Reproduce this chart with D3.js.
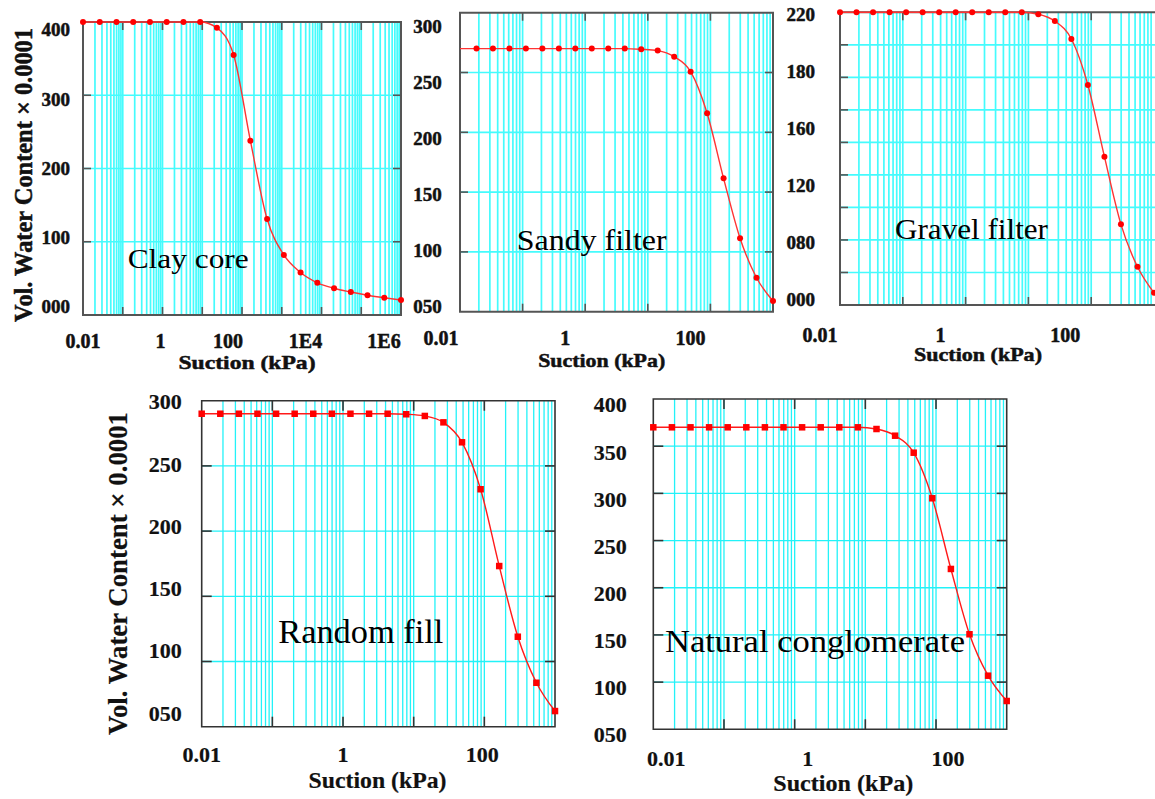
<!DOCTYPE html>
<html><head><meta charset="utf-8">
<script src="https://cdn.jsdelivr.net/npm/d3@7/dist/d3.min.js"></script>
<style>
body{margin:0;background:#fff}
svg{display:block}
text{font-family:"Liberation Serif","Times New Roman",serif}
</style>
</head><body>
<svg id="chart" width="1155" height="799"></svg>
<script>
// ---------- DATA ----------
const suctionClay = [0.01, 0.02637, 0.06952, 0.1833, 0.4833, 1.274, 3.360, 8.859, 23.36, 61.58,
  162.4, 428.1, 1129, 2976, 7848, 20691, 54556, 143845, 379269, 1000000];
const suction = [0.01, 0.01833, 0.03360, 0.06158, 0.1129, 0.2069, 0.3793, 0.6952, 1.274, 2.336,
  4.281, 7.848, 14.38, 26.37, 48.33, 88.59, 162.4, 297.6, 545.6, 1000];

const clayCore = [400, 400, 400, 400, 400, 400, 400, 400, 392, 355, 238, 131, 82, 58, 44, 36.5, 31.4, 27, 23.6, 20.5];
const sandyFilter = [270, 270, 270, 270, 270, 270, 270, 270, 270, 270, 270, 269.4, 268.3, 263.2, 250.7, 215.9, 161.5, 111.4, 78.4, 59];
const gravelFilter = [220, 220, 220, 220, 220, 220, 220, 220, 220, 220, 220, 220, 218.8, 214.6, 203.6, 175.3, 131.2, 89.6, 63.5, 47.5];
const randomFill = [290, 290, 290, 290, 290, 290, 290, 290, 290, 290, 290, 289.6, 288.3, 283.4, 268.1, 232.1, 173.2, 119, 83.7, 62];
const naturalConglomerate = [370, 370, 370, 370, 370, 370, 370, 370, 370, 370, 370, 370, 368.2, 361.1, 343.1, 294.8, 219.9, 150.7, 106.8, 80];

const materialNames = ["Clay core", "Sandy filter", "Gravel filter", "Random fill", "Natural conglomerate"];

const clayXTicks = [0.01, 1, 100, 1e4, 1e6];
const clayXTickLabels = ["0.01", "1", "100", "1E4", "1E6"];
const xTicks = [0.01, 1, 100];
const xTickLabels = ["0.01", "1", "100"];

const clayYLabels = ["400", "300", "200", "100", "000"];
const sandyYLabels = ["300", "250", "200", "150", "100", "050"];
const gravelYLabels = ["220", "180", "160", "120", "080", "000"];
const randomYLabels = ["300", "250", "200", "150", "100", "050"];
const conglomerateYLabels = ["400", "350", "300", "250", "200", "150", "100", "050"];

const clayYGrid = [100, 200, 300];
const sandyYGrid = [100, 150, 200, 250];
const gravelYGrid = [60, 80, 100, 120, 140, 160, 180, 200];
const randomYGrid = [100, 150, 200, 250];
const conglomerateYGrid = [100, 150, 200, 250, 300, 350];

const xTitle = "Suction (kPa)";
const yTitle = "Vol. Water Content \u00d7 0.0001";

// ---------- LAYOUT (positions / styles) ----------
const panels = [
  {name: materialNames[0], xs: suctionClay, ys: clayCore, xDomain: [0.01, 1e6], yDomain: [0, 400],
   box: [83, 401, 22, 315], top: true, marker: "circle",
   xTicks: clayXTicks, xTickLabels: clayXTickLabels, xLabelDx: [0, -2, -14, -16, -17], xLabelY: 340.7,
   yLabels: clayYLabels, yLabelRange: [30, 307], yLabelRight: 70, yGrid: clayYGrid,
   xTitlePos: [247, 363.3, 137], namePos: [127.7, 268.3, 121, 28],
   yTitlePos: [31.5, 175, 294, 25]},
  {name: materialNames[1], xs: suction, ys: sandyFilter, xDomain: [0.01, 1000], yDomain: [50, 300],
   box: [460, 773, 12.7, 311.7], top: true, marker: "circle", skipFirstMarker: true,
   xTicks: xTicks, xTickLabels: xTickLabels, xLabelDx: [-19, -20, -20], xLabelY: 338.3,
   yLabels: sandyYLabels, yLabelRange: [26.7, 307], yLabelRight: 441.7, yGrid: sandyYGrid,
   xTitlePos: [601.7, 361.7, 127], namePos: [516.7, 250, 150, 29]},
  {name: materialNames[2], xs: suction, ys: gravelFilter, xDomain: [0.01, 1000], yDomain: [40, 220],
   box: [840, 1154, 12.3, 305], top: true, marker: "circle", noRight: true,
   xTicks: xTicks, xTickLabels: xTickLabels, xLabelDx: [-20, -25, -26], xLabelY: 335,
   yLabels: gravelYLabels, yLabelRange: [15, 300], yLabelRight: 815, yGrid: gravelYGrid,
   xTitlePos: [978, 356, 128], namePos: [895, 239.3, 153, 29]},
  {name: materialNames[3], xs: suction, ys: randomFill, xDomain: [0.01, 1000], yDomain: [50, 300],
   box: [201.7, 555, 400.7, 726.7], top: false, marker: "square",
   xTicks: xTicks, xTickLabels: xTickLabels, xLabelDx: [0, 0, -2], xLabelY: 755,
   yLabels: randomYLabels, yLabelRange: [401.7, 713.3], yLabelRight: 181.7, yGrid: randomYGrid,
   xTitlePos: [377.5, 781.7, 138], namePos: [278.3, 643.3, 165, 34],
   yTitlePos: [126.5, 573.5, 323, 27]},
  {name: materialNames[4], xs: suction, ys: naturalConglomerate, xDomain: [0.01, 1000], yDomain: [50, 400],
   box: [653.3, 1006.7, 399, 729.3], top: false, marker: "square",
   xTicks: xTicks, xTickLabels: xTickLabels, xLabelDx: [13, 13, 12], xLabelY: 758.3,
   yLabels: conglomerateYLabels, yLabelRange: [405, 735], yLabelRight: 626.7, yGrid: conglomerateYGrid,
   xTitlePos: [843.3, 785, 140], namePos: [665, 651.7, 300, 32]}
];

const svg = d3.select("#chart");

panels.forEach(p => {
  const [L, R, T, B] = p.box;
  const x = d3.scaleLog().domain(p.xDomain).range([L, R]);
  const y = d3.scaleLinear().domain(p.yDomain).range([B, T]);
  const g = svg.append("g");
  const gridColor = p.top ? "#45fbfd" : "#22f2f8";
  const gridW = p.top ? 1.7 : 1.3;
  const frameColor = p.top ? "#555" : "#333";
  const tickLen = p.top ? 8 : 10;
  const textStroke = p.top ? 0.5 : 0.2;

  // log grid (1..9 x 10^e)
  const eLo = Math.round(Math.log10(p.xDomain[0])), eHi = Math.round(Math.log10(p.xDomain[1]));
  const gridX = [], decades = [];
  for (let e = eLo; e < eHi; e++) {
    for (let k = 1; k <= 9; k++) {
      const v = k * Math.pow(10, e);
      if (v > p.xDomain[0] * 1.0001) gridX.push(v);
    }
    if (e > eLo) decades.push(Math.pow(10, e));
  }
  g.selectAll(".vg").data(gridX).join("line")
    .attr("x1", d => x(d)).attr("x2", d => x(d)).attr("y1", T).attr("y2", B)
    .attr("stroke", gridColor).attr("stroke-width", gridW);
  g.selectAll(".hg").data(p.yGrid).join("line")
    .attr("x1", L).attr("x2", p.noRight ? 1155 : R).attr("y1", d => y(d)).attr("y2", d => y(d))
    .attr("stroke", gridColor).attr("stroke-width", gridW);

  // frame
  const fp = p.noRight
    ? `M${1160},${T}H${L}V${B}H${1160}`
    : `M${L},${T}H${R}V${B}H${L}Z`;
  g.append("path").attr("d", fp).attr("fill", "none").attr("stroke", frameColor).attr("stroke-width", p.top ? 2 : 1.6);

  // ticks
  decades.forEach(d => {
    g.append("line").attr("x1", x(d)).attr("x2", x(d)).attr("y1", B).attr("y2", B - tickLen).attr("stroke", frameColor).attr("stroke-width", 1.6);
    g.append("line").attr("x1", x(d)).attr("x2", x(d)).attr("y1", T).attr("y2", T + tickLen).attr("stroke", frameColor).attr("stroke-width", 1.6);
  });
  p.yGrid.forEach(v => {
    g.append("line").attr("x1", L).attr("x2", L + tickLen).attr("y1", y(v)).attr("y2", y(v)).attr("stroke", frameColor).attr("stroke-width", 1.6);
    if (!p.noRight) g.append("line").attr("x1", R).attr("x2", R - tickLen).attr("y1", y(v)).attr("y2", y(v)).attr("stroke", frameColor).attr("stroke-width", 1.6);
  });

  // curve
  const pts = p.xs.map((s, i) => [s, p.ys[i]]);
  const line = d3.line().x(d => x(d[0])).y(d => y(d[1])).curve(d3.curveMonotoneX);
  g.append("path").datum(pts).attr("d", line).attr("fill", "none")
    .attr("stroke", p.top ? "#f33" : "#ff1a1a").attr("stroke-width", 1.4);

  const mk = p.skipFirstMarker ? pts.slice(1) : pts;
  if (p.marker === "circle") {
    g.selectAll(".m").data(mk).join("circle")
      .attr("cx", d => x(d[0])).attr("cy", d => y(d[1])).attr("r", 3).attr("fill", "#f00");
  } else {
    const s = 6.5;
    g.selectAll(".m").data(mk).join("rect")
      .attr("x", d => x(d[0]) - s / 2).attr("y", d => y(d[1]) - s / 2)
      .attr("width", s).attr("height", s).attr("fill", "#f00");
  }

  // tick labels
  const tfs = p.top ? 20 : 22;
  const yfs = p.top ? 19 : 22;
  g.selectAll(".xl").data(p.xTicks).join("text")
    .attr("x", (d, i) => x(d) + p.xLabelDx[i]).attr("y", p.xLabelY + 0.34 * tfs)
    .attr("text-anchor", "middle").attr("font-weight", "bold").attr("font-size", tfs).attr("fill", "#111")
    .attr("stroke", "#111").attr("stroke-width", textStroke)
    .text((d, i) => p.xTickLabels[i]);
  const ly = d3.scalePoint().domain(p.yLabels).range(p.yLabelRange);
  g.selectAll(".yl").data(p.yLabels).join("text")
    .attr("x", p.yLabelRight).attr("y", d => ly(d) + 0.34 * yfs)
    .attr("text-anchor", "end").attr("font-weight", "bold").attr("font-size", yfs).attr("fill", "#111")
    .attr("stroke", "#111").attr("stroke-width", textStroke)
    .text(d => d);

  // x title
  const [xtx, xty, xtl] = p.xTitlePos;
  const xtfs = p.top ? 19 : 23;
  g.append("text").attr("x", xtx).attr("y", xty + 0.28 * xtfs).attr("text-anchor", "middle")
    .attr("font-weight", "bold").attr("font-size", xtfs).attr("fill", "#111")
    .attr("stroke", "#111").attr("stroke-width", textStroke)
    .attr("textLength", xtl).attr("lengthAdjust", "spacingAndGlyphs").text(xTitle);

  // material name
  const [nx, nyb, nl, nfs] = p.namePos;
  g.append("text").attr("x", nx).attr("y", nyb).attr("font-size", nfs).attr("fill", "#000")
    .attr("textLength", nl).attr("lengthAdjust", "spacingAndGlyphs").text(p.name);

  // y title
  if (p.yTitlePos) {
    const [bx, cy, len, fs] = p.yTitlePos;
    g.append("text").attr("transform", `translate(${bx},${cy}) rotate(-90)`)
      .attr("text-anchor", "middle").attr("font-weight", "bold").attr("font-size", fs).attr("fill", "#111")
      .attr("stroke", "#111").attr("stroke-width", textStroke)
      .attr("textLength", len).attr("lengthAdjust", "spacingAndGlyphs").text(yTitle);
  }
});
</script>
</body></html>
